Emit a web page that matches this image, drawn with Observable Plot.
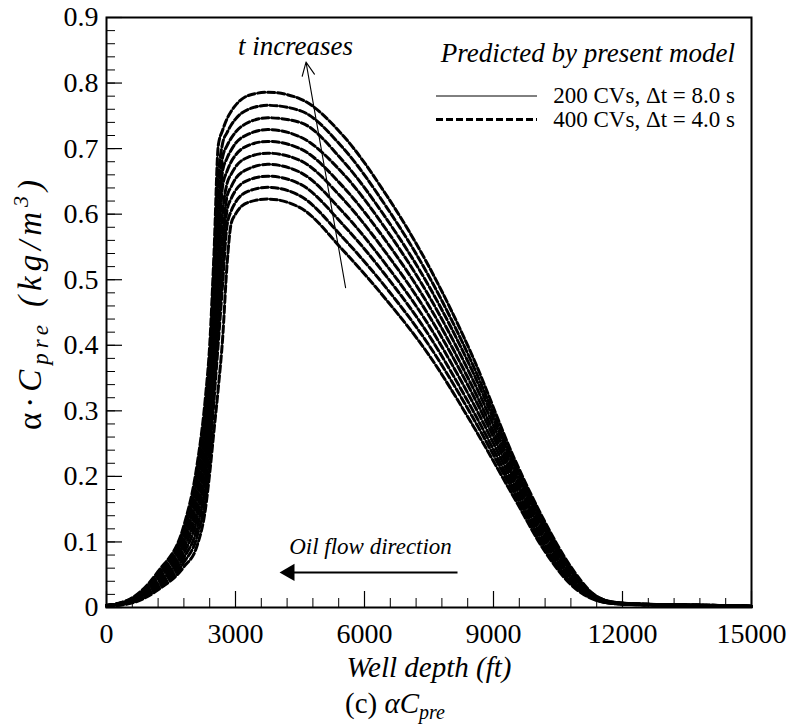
<!DOCTYPE html>
<html><head><meta charset="utf-8">
<script src="https://cdn.jsdelivr.net/npm/d3@7"></script>
<script src="https://cdn.jsdelivr.net/npm/@observablehq/plot@0.6"></script>
<style>
body{margin:0;background:#fff;}
#chart svg{font-family:"Liberation Serif","Times New Roman",serif;}
</style>
</head><body><div id="chart"></div>
<script>
// Well depth grid (ft)
const depth = [0, 600, 1200, 1800, 2100, 2300, 2400, 2500, 2600, 2700, 2800, 2900, 3000, 3300, 3750, 4500, 5500, 6500, 7500, 8500, 9500, 10200, 10800, 11300, 11800, 12500, 13500, 15000];
// alpha*C_pre (kg/m^3), one series per time level (t0 earliest ... t9 latest)
const t0 = [0.002, 0.007, 0.027, 0.062, 0.093, 0.150, 0.205, 0.270, 0.335, 0.410, 0.520, 0.586, 0.600, 0.618, 0.623, 0.610, 0.545, 0.470, 0.385, 0.280, 0.165, 0.085, 0.035, 0.013, 0.006, 0.004, 0.003, 0.002];
const t1 = [0.002, 0.008, 0.030, 0.069, 0.107, 0.169, 0.227, 0.316, 0.404, 0.493, 0.581, 0.605, 0.618, 0.635, 0.641, 0.628, 0.564, 0.488, 0.400, 0.292, 0.172, 0.090, 0.038, 0.014, 0.006, 0.004, 0.003, 0.002];
const t2 = [0.002, 0.009, 0.033, 0.076, 0.120, 0.188, 0.248, 0.341, 0.434, 0.527, 0.605, 0.624, 0.636, 0.652, 0.658, 0.646, 0.584, 0.506, 0.415, 0.303, 0.178, 0.095, 0.041, 0.015, 0.006, 0.004, 0.003, 0.002];
const t3 = [0.002, 0.010, 0.036, 0.083, 0.134, 0.207, 0.270, 0.368, 0.466, 0.563, 0.626, 0.642, 0.654, 0.669, 0.676, 0.664, 0.603, 0.523, 0.430, 0.315, 0.185, 0.100, 0.044, 0.016, 0.007, 0.004, 0.003, 0.002];
const t4 = [0.003, 0.011, 0.039, 0.090, 0.147, 0.226, 0.292, 0.395, 0.498, 0.602, 0.646, 0.661, 0.672, 0.687, 0.693, 0.682, 0.623, 0.541, 0.445, 0.327, 0.192, 0.105, 0.047, 0.017, 0.007, 0.005, 0.003, 0.002];
const t5 = [0.003, 0.011, 0.043, 0.097, 0.161, 0.244, 0.313, 0.423, 0.533, 0.643, 0.665, 0.680, 0.690, 0.705, 0.711, 0.700, 0.642, 0.559, 0.460, 0.338, 0.198, 0.110, 0.050, 0.018, 0.007, 0.005, 0.004, 0.002];
const t6 = [0.003, 0.012, 0.046, 0.104, 0.174, 0.263, 0.335, 0.453, 0.570, 0.666, 0.685, 0.698, 0.708, 0.722, 0.729, 0.718, 0.662, 0.577, 0.475, 0.350, 0.205, 0.115, 0.053, 0.019, 0.007, 0.005, 0.004, 0.002];
const t7 = [0.003, 0.013, 0.049, 0.111, 0.188, 0.282, 0.357, 0.484, 0.611, 0.687, 0.704, 0.716, 0.725, 0.740, 0.747, 0.740, 0.681, 0.594, 0.490, 0.362, 0.212, 0.120, 0.056, 0.020, 0.008, 0.005, 0.004, 0.002];
const t8 = [0.003, 0.014, 0.052, 0.118, 0.201, 0.301, 0.378, 0.517, 0.655, 0.708, 0.724, 0.736, 0.745, 0.760, 0.766, 0.758, 0.701, 0.612, 0.505, 0.373, 0.218, 0.125, 0.059, 0.021, 0.008, 0.005, 0.004, 0.002];
const t9 = [0.003, 0.015, 0.055, 0.125, 0.215, 0.320, 0.400, 0.540, 0.705, 0.728, 0.745, 0.757, 0.766, 0.781, 0.786, 0.776, 0.720, 0.630, 0.520, 0.385, 0.225, 0.130, 0.062, 0.022, 0.008, 0.005, 0.004, 0.002];
const series = [t0, t1, t2, t3, t4, t5, t6, t7, t8, t9];

const xTicks = [0, 3000, 6000, 9000, 12000, 15000];
const xTickLabels = ["0", "3000", "6000", "9000", "12000", "15000"];
const yTicks = [0, 0.1, 0.2, 0.3, 0.4, 0.5, 0.6, 0.7, 0.8, 0.9];
const yTickLabels = ["0", "0.1", "0.2", "0.3", "0.4", "0.5", "0.6", "0.7", "0.8", "0.9"];
const legendTitle = "Predicted by present model";
const legendLabels = ["200 CVs, \u0394t = 8.0 s", "400 CVs, \u0394t = 4.0 s"];
// annotations (data units)
const tArrow = [{x1: 5560, y1: 0.488, x2: 4640, y2: 0.832}];
const tNote = [{x: 4395, y: 0.856, text: "t increases"}];
const flowArrow = [{x1: 8163, x2: 4300, y: 0.0534}];
const flowHead = [{x: 4256, y: 0.0534}];
const flowNote = [{x: 6140, y: 0.093, text: "Oil flow direction"}];

const rows = [];
series.forEach((vals, k) => vals.forEach((v, j) => rows.push({k, x: depth[j], y: v})));

const W = 788, H = 724;
const ML = 106, MR = 37, MT = 17, MB = 117;
const FONT = '"Liberation Serif","Times New Roman",serif';

const plot = Plot.plot({
  width: W, height: H,
  marginLeft: ML, marginRight: MR, marginTop: MT, marginBottom: MB,
  style: {fontFamily: FONT, background: "#fff", color: "#000"},
  x: {domain: [0, 15000]},
  y: {domain: [0, 0.9]},
  marks: [
    Plot.axisX({ticks: d3.range(0, 15001, 600), tickSize: -9, tickFormat: () => "", label: null, strokeWidth: 1}),
    Plot.axisX({ticks: xTicks, tickSize: -16, tickPadding: 32, tickFormat: (d) => xTickLabels[xTicks.indexOf(d)], label: null, fontSize: 28, strokeWidth: 1.2}),
    Plot.axisY({ticks: d3.range(0, 0.9001, 0.02), tickSize: -9, tickFormat: () => "", label: null, strokeWidth: 1}),
    Plot.axisY({ticks: yTicks, tickSize: -16, tickPadding: 24, tickFormat: (d) => yTickLabels[yTicks.findIndex(t => Math.abs(t - d) < 1e-9)], label: null, fontSize: 28, strokeWidth: 1.2}),
    Plot.lineY(rows, {x: "x", y: "y", z: "k", stroke: "#000", strokeWidth: 0.7, curve: "monotone-x"}),
    Plot.lineY(rows, {x: "x", y: "y", z: "k", stroke: "#000", strokeWidth: 3, strokeDasharray: "7,3", curve: "monotone-x"}),
    Plot.arrow(tArrow, {x1: "x1", y1: "y1", x2: "x2", y2: "y2", stroke: "#000", strokeWidth: 1.1, headLength: 20, headAngle: 50}),
    Plot.text(tNote, {x: "x", y: "y", text: "text", fontSize: 27, fontStyle: "italic"}),
    Plot.link(flowArrow, {x1: "x1", x2: "x2", y1: "y", y2: "y", stroke: "#000", strokeWidth: 2}),
    Plot.dot(flowHead, {x: "x", y: "y", symbol: "triangle", r: 6.4, rotate: -90, fill: "#000", stroke: "none"}),
    Plot.text(flowNote, {x: "x", y: "y", text: "text", fontSize: 23, fontStyle: "italic"}),
    Plot.frame({stroke: "#000", strokeWidth: 2}),
    Plot.text(["Well depth (ft)"], {frameAnchor: "bottom", dy: 69, fontSize: 29, fontStyle: "italic"})
  ]
});
document.getElementById("chart").appendChild(plot);

const svg = d3.select(plot);
// legend
const lg = svg.append("g").attr("font-family", FONT).attr("fill", "#000");
lg.append("text").attr("x", 735).attr("y", 62).attr("text-anchor", "end").attr("font-size", 27).attr("font-style", "italic").text(legendTitle);
lg.append("line").attr("x1", 436).attr("x2", 537).attr("y1", 96).attr("y2", 96).attr("stroke", "#000").attr("stroke-width", 1);
lg.append("text").attr("x", 735).attr("y", 103).attr("text-anchor", "end").attr("font-size", 23).text(legendLabels[0]);
lg.append("line").attr("x1", 436).attr("x2", 537).attr("y1", 119.5).attr("y2", 119.5).attr("stroke", "#000").attr("stroke-width", 3).attr("stroke-dasharray", "7,3");
lg.append("text").attr("x", 735).attr("y", 127).attr("text-anchor", "end").attr("font-size", 23).text(legendLabels[1]);

// y-axis title
const yl = svg.append("text").attr("transform", "translate(41,305) rotate(-90)").attr("text-anchor", "middle")
  .attr("font-size", 33).attr("font-family", FONT).attr("fill", "#000")
  .attr("textLength", 250).attr("lengthAdjust", "spacing");
yl.append("tspan").text("\u03b1\u00b7");
yl.append("tspan").attr("font-style", "italic").text("C");
yl.append("tspan").attr("font-style", "italic").attr("font-size", 23).attr("dy", 7).text("pre");
yl.append("tspan").attr("font-style", "italic").attr("dy", -7).text(" (kg/m");
yl.append("tspan").attr("font-style", "italic").attr("font-size", 22).attr("dy", -13).text("3");
yl.append("tspan").attr("font-style", "italic").attr("dy", 13).text(")");

// caption
const cap = svg.append("text").attr("x", 395).attr("y", 713).attr("text-anchor", "middle")
  .attr("font-size", 29).attr("font-family", FONT).attr("fill", "#000");
cap.append("tspan").text("(c) ");
cap.append("tspan").attr("font-style", "italic").text("\u03b1C");
cap.append("tspan").attr("font-style", "italic").attr("font-size", 20).attr("dy", 6).text("pre");
</script>
</body></html>
